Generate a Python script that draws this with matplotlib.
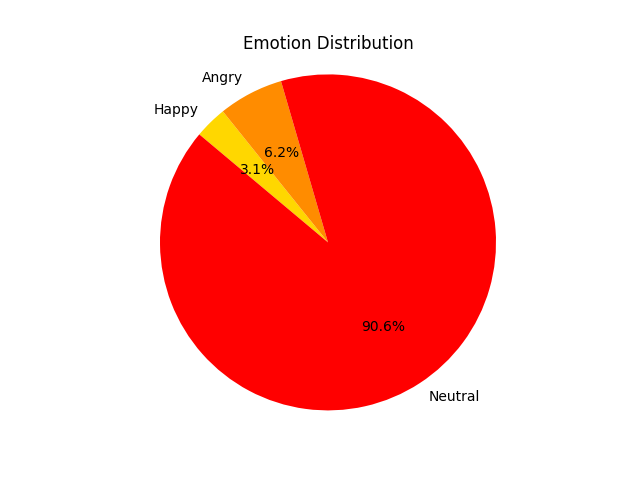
import matplotlib
matplotlib.use("Agg")
import matplotlib.pyplot as plt

labels = ["Happy", "Angry", "Neutral"]
counts = [1, 2, 29]
colors = ["#FFD700", "#FF8C00", "#FF0000"]

fig, ax = plt.subplots(figsize=(6.4, 4.8), dpi=100)
ax.pie(counts, labels=labels, colors=colors, autopct="%1.1f%%",
       startangle=140, counterclock=False)
ax.set_title("Emotion Distribution")
ax.axis("equal")
fig.savefig("out.png", dpi=100)
